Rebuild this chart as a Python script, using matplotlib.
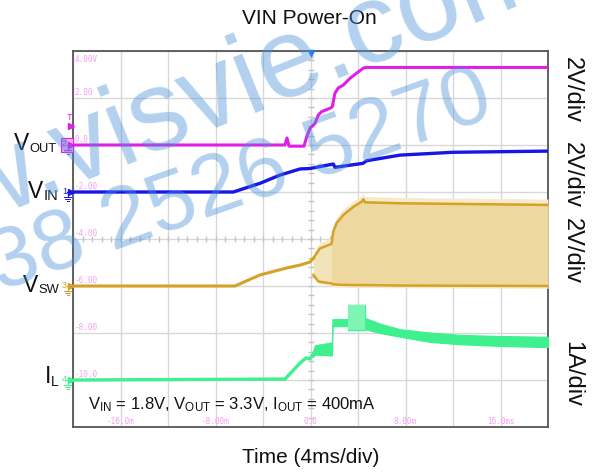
import numpy as np
import matplotlib.pyplot as plt
from matplotlib.lines import Line2D
from matplotlib.patches import Rectangle

W, H = 597, 473
plt.rcParams['font.family'] = ['Liberation Sans', 'DejaVu Sans']
plt.rcParams['mathtext.fontset'] = 'custom'
plt.rcParams['mathtext.rm'] = 'Liberation Sans'

# ---- data (time in ms) ----
# VOUT, volts (2V/div)
t_vout = [-20, -2.15, -1.98, -1.81, -0.55, -0.32, -0.04, 0.38, 0.66, 0.94, 1.64, 1.84,
          2.06, 2.34, 2.76, 3.33, 3.89, 4.45, 4.59, 20]
vout = [0, 0, 0.3, -0.05, -0.05, 0.35, 0.71, 0.92, 1.28, 1.42, 1.56, 1.63,
        2.21, 2.43, 2.55, 2.84, 3.06, 3.27, 3.30, 3.30]

# VIN, volts (2V/div)
t_vin = [-20, -6.5, -4.25, -2.57, -0.88, -0.04, 1.92, 2.06, 4.42, 4.73, 7.54, 12.0, 20]
vin = [0, 0, 0.37, 0.72, 0.98, 1.0, 1.19, 1.05, 1.22, 1.33, 1.57, 1.69, 1.74]

# VSW before switching, volts (2V/div)
t_sw = [-20, -6.36, -4.25, -1.98, -0.88, -0.04, 0.24]
vsw = [0, 0, 0.47, 0.77, 0.89, 1.02, 1.18]
# VSW switching envelope
t_sw_env = [0.24, 0.66, 0.8, 1.77, 1.91, 2.19, 2.76, 3.61, 4.31, 4.45, 4.59, 7.54, 20]
sw_top = [1.18, 1.5, 1.6, 1.79, 2.31, 2.67, 3.02, 3.37, 3.59, 3.69, 3.56, 3.52, 3.45]
sw_bot = [0.47, 0.2, 0.18, 0.11, 0.07, 0.06, 0.05, 0.04, 0.04, 0.04, 0.04, 0.02, 0.0]

# IL, amps (1A/div)
t_il = [-20, -2.15, -0.88, -0.38, -0.04, 0.21]
il = [0, 0.02, 0.36, 0.47, 0.45, 0.55]
t_il_band = [0.21, 0.38, 1.80, 1.85, 3.15, 3.16, 4.59, 4.60, 5.85, 7.54, 10.06, 12.6, 15.96, 20]
il_mid = [0.55, 0.64, 0.66, 1.22, 1.22, 1.33, 1.33, 1.2, 1.1, 1.0, 0.91, 0.86, 0.83, 0.81]
il_hw = [0.06, 0.1, 0.14, 0.075, 0.075, 0.27, 0.27, 0.12, 0.1, 0.08, 0.1, 0.1, 0.106, 0.11]

y_labels = ['4.00V', '2.00', '0.0', '-2.00', '-4.00', '-6.00', '-8.00', '-10.0']
x_labels = ['-16.0m', '-8.00m', '0.0', '8.00m', '16.0ms']
x_label_pos = [-16, -8, 0, 8, 16]
scales = ['2V/div', '2V/div', '2V/div', '1A/div']

# channel offsets in screen units (1 div = 2 units)
off_vout, off_vin, off_sw, off_il = 0, -2, -6, -10

c_vout = '#e01ee8'
c_vin = '#1616e8'
c_sw = '#d6a126'
c_il = '#3ef08e'


def fx(x):
    return x / W


def fy(y):
    return 1 - y / H


fig = plt.figure(figsize=(W / 100, H / 100), dpi=100)
ax = fig.add_axes([fx(73), fy(427), 475 / W, 376 / H])
ax.set_xlim(-20, 20)
ax.set_ylim(-12, 4)
ax.set_xticks(np.arange(-20, 21, 4))
ax.set_yticks(np.arange(-12, 5, 2))
ax.grid(color='#d8d8d8', lw=1)
ax.tick_params(length=0, labelbottom=False, labelleft=False)
for s in ax.spines.values():
    s.set_color('#555555')
    s.set_linewidth(1.3)

# centre cross minor ticks
xs = np.arange(-20, 20.01, 0.8)
ax.plot(xs, np.full_like(xs, -4), '|', ms=4, color='#c4c4c4')
ys = np.arange(-12, 4.01, 0.4)
ax.plot(np.zeros_like(ys), ys, '_', ms=4, color='#c4c4c4')

# pink scope labels
for i, lab in enumerate(y_labels):
    yv = 4 - 2 * i
    if i == 0:
        ax.text(-19.85, yv - 0.15, lab, color='#f59cf5', fontsize=5.5, family='DejaVu Sans Mono',
                va='top', ha='left')
    else:
        ax.text(-19.85, yv + 0.05, lab, color='#f59cf5', fontsize=5.5, family='DejaVu Sans Mono',
                va='bottom', ha='left')
for xp, lab in zip(x_label_pos, x_labels):
    ax.text(xp, -11.95, lab, color='#f59cf5', fontsize=5.5, family='DejaVu Sans Mono',
            va='bottom', ha='center')

# traces
ax.plot(t_vout, np.array(vout) + off_vout, color=c_vout, lw=2.2, zorder=5)
ax.plot(t_vin, np.array(vin) + off_vin, color=c_vin, lw=2.4, zorder=5)
ax.plot(t_sw, np.array(vsw) + off_sw, color=c_sw, lw=2.2, zorder=5)

te = np.array(t_sw_env)
top = np.array(sw_top) + off_sw
bot = np.array(sw_bot) + off_sw
ax.fill_between(te, bot - 0.1, top + 0.25, color='#f5eacb', lw=0, zorder=3)
ax.fill_between(te, bot, top, where=te <= 1.91, color='#f2e3b8', lw=0, zorder=4)
ax.fill_between(te, bot, top, where=te >= 1.77, color='#edd8a0', lw=0, zorder=4)
ax.plot(te, top, color=c_sw, lw=1.8, zorder=5)
ax.plot(te, bot, color=c_sw, lw=1.8, zorder=5)

ax.plot(t_il, 2 * np.array(il) + off_il, color=c_il, lw=2.4, zorder=5)
tb = np.array(t_il_band)
mid = np.array(il_mid)
hw = np.array(il_hw)
ax.fill_between(tb, 2 * (mid - hw) + off_il, 2 * (mid + hw) + off_il, color=c_il, lw=0.8,
                edgecolor=c_il, zorder=5)
ax.fill_between(tb, 2 * (mid - hw) + off_il, 2 * (mid + hw) + off_il,
                where=(tb >= 3.16) & (tb <= 4.59), color='#7ff5b4', lw=0, zorder=5)

ax.text(-18.75, -11.25, r'$\mathregular{V_{IN}}$ = 1.8V, $\mathregular{V_{OUT}}$ = 3.3V, '
        r'$\mathregular{I_{OUT}}$ = 400mA', fontsize=12, color='#111111', va='baseline', zorder=6)

# channel markers on the left edge
def marker(y, num, color, boxed=False):
    if boxed:
        fig.add_artist(Rectangle((fx(60.5), fy(y + 7)), 12 / W, 14 / H, transform=fig.transFigure,
                                 facecolor='#f5aaf5', edgecolor=color, lw=0.8))
    fig.text(fx(64.5), fy(y - 1), num, color=color, fontsize=6.5, ha='center', va='center')
    fig.add_artist(Line2D([fx(70.5)], [fy(y)], marker='>', ms=4, color=color, lw=0,
                          transform=fig.transFigure))
    fig.add_artist(Line2D([fx(67.5), fx(67.5)], [fy(y), fy(y + 5)], color=color, lw=0.8,
                          transform=fig.transFigure))
    fig.add_artist(Line2D([fx(66.5), fx(70)], [fy(y), fy(y)], color=color, lw=0.8,
                          transform=fig.transFigure))
    for i, w in enumerate([3.5, 2.2, 1]):
        fig.add_artist(Line2D([fx(67.5 - w), fx(67.5 + w)], [fy(y + 5 + 2 * i)] * 2, color=color,
                              lw=0.7, transform=fig.transFigure))


marker(145, '2', c_vout, boxed=True)
marker(192, '1', c_vin)
marker(286, '3', c_sw)
marker(380, '4', c_il)
fig.text(fx(69.5), fy(118), 'T', color=c_vout, fontsize=6.5, ha='center', va='center')
fig.add_artist(Line2D([fx(70.5)], [fy(126)], marker='>', ms=4, color=c_vout, lw=0,
                      transform=fig.transFigure))
fig.add_artist(Line2D([fx(310.5)], [fy(53)], marker='v', ms=5, color='#1e7fe0', lw=0,
                      transform=fig.transFigure))

# channel names
def chan_label(x, base, main, sub, xs_, sub_size, sub_base):
    fig.text(fx(x), fy(base), main, fontsize=16.5, ha='left', va='baseline', color='#111111')
    fig.text(fx(xs_), fy(sub_base), sub, fontsize=sub_size, ha='left', va='baseline',
             color='#111111')


chan_label(13.5, 150.5, 'V', 'OUT', 29, 9.3, 151.5)
chan_label(28, 198.5, 'V', 'IN', 43.5, 10.5, 200)
chan_label(22.5, 291.5, 'V', 'SW', 38, 9.3, 293)
chan_label(45, 383, 'I', 'L', 50.5, 10, 385.5)

# scale labels on the right
for yc, lab in zip([90, 175, 251, 374], scales):
    fig.text(fx(572), fy(yc), lab, fontsize=17, rotation=-90, ha='center', va='center',
             color='#111111')

fig.text(fx(309), fy(18), 'VIN Power-On', fontsize=15, ha='center', va='center', color='#111111')
fig.text(fx(311), fy(457), 'Time (4ms/div)', fontsize=15, ha='center', va='center',
         color='#111111')

# watermark
fig.text(fx(188), fy(139), 'www.visvie.com', fontsize=81, color='#4a90d9', alpha=0.42,
         rotation=22, rotation_mode='anchor', ha='center', va='baseline', zorder=20)
fig.text(fx(0), fy(291), '38 2526 5270', fontsize=62, color='#4a90d9', alpha=0.42,
         rotation=19.5, rotation_mode='anchor', ha='left', va='baseline', zorder=20)

fig.savefig('out.png', dpi=100)
